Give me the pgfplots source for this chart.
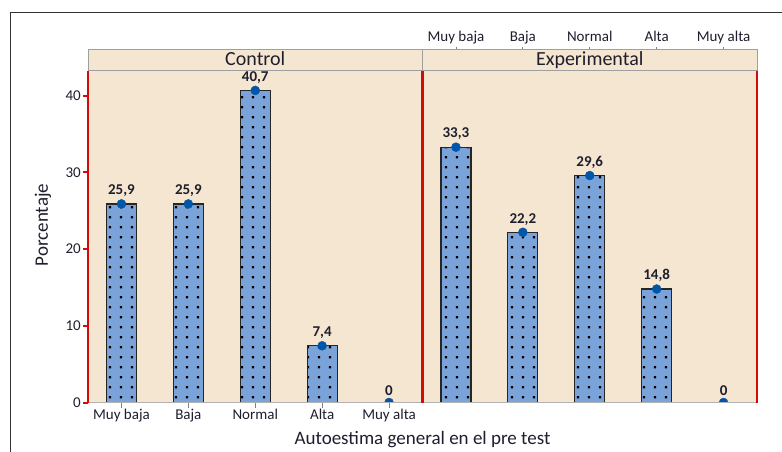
\documentclass[border=0pt]{standalone}
\usepackage{fontspec}
\setmainfont{Carlito}
\usepackage{pgfplots}
\pgfplotsset{compat=1.18}
\usetikzlibrary{patterns.meta}
\definecolor{bg}{RGB}{245,230,210}
\definecolor{barblue}{RGB}{122,163,218}
\definecolor{markblue}{RGB}{0,86,168}
\definecolor{axred}{RGB}{215,10,10}
\definecolor{txt}{RGB}{30,30,45}
\tikzdeclarepattern{
  name=bardots,
  type=uncolored,
  bounding box={(0pt,0pt) and (10.5pt,10pt)},
  tile size={(10.5pt,10pt)},
  code={\fill (4pt,4pt) rectangle (6.4pt,6.4pt);}
}
\pgfplotsset{
  panel/.style={
    scale only axis, width=334.5pt, height=332pt, anchor=south west,
    xmin=-0.5, xmax=4.5, ymin=0, ymax=43.3,
    axis background/.style={fill=bg},
    axis line style={draw=none},
    tick align=outside, major tick length=5pt,
    tick label style={font=\fontsize{15}{16}\selectfont, text=txt, inner sep=2pt},
    xticklabel style={text height=10pt, text depth=3pt},
    /pgf/number format/assume math mode=true,
    clip marker paths=true,
  },
  strip/.style={
    scale only axis, width=334.5pt, height=20.5pt, anchor=south west,
    xmin=-0.5, xmax=4.5, ymin=0, ymax=1,
    axis background/.style={fill=bg},
    axis line style={draw=gray!75, line width=1pt},
    ytick=\empty,
    tick align=outside, major tick length=3pt,
    tick label style={font=\fontsize{15}{16}\selectfont, text=txt, inner sep=2pt},
    xticklabel style={text height=10pt, text depth=3pt},
  },
  bars/.style={ybar, bar width=30pt, fill=barblue, draw=black!85, line width=1.2pt,
    postaction={pattern=bardots, pattern color=black}},
  dots/.style={only marks, mark=*, mark size=4.5pt, color=markblue,
    nodes near coords={\pgfmathprintnumber[fixed,precision=1,use comma]{\pgfplotspointmeta}},
    nodes near coords style={anchor=south, yshift=5pt, inner sep=2pt, text=txt,
      font=\bfseries\fontsize{15}{16}\selectfont}},
}
\begin{document}
\begin{tikzpicture}
\useasboundingbox (0pt,0pt) rectangle (782pt,451pt);
\draw[line width=1.5pt, black!80] (10.5pt,-2pt) -- (10.5pt,438.5pt) -- (785pt,438.5pt);

% strips
\begin{axis}[strip, at={(88pt,380.5pt)}, xtick=\empty]
\end{axis}
\begin{axis}[strip, at={(422.5pt,380.5pt)},
  xtick={0,1,2,3,4}, xticklabels={Muy baja,Baja,Normal,Alta,Muy alta},
  xtick pos=upper, xticklabel pos=upper, xtick style={gray, line width=0.8pt}]
\end{axis}
\node[anchor=base, text=txt, font=\fontsize{20}{20}\selectfont] at (255.25pt,385.3pt) {Control};
\node[anchor=base, text=txt, font=\fontsize{20}{20}\selectfont] at (589.75pt,385.3pt) {Experimental};

% left panel
\begin{axis}[panel, name=left, at={(88pt,48.5pt)},
  ytick={0,10,20,30,40}, ytick pos=left, ytick style={axred, line width=2pt},
  xtick={0,1,2,3,4}, xticklabels={Muy baja,Baja,Normal,Alta,Muy alta},
  xtick pos=lower, xtick style={gray, line width=0.8pt}]
\addplot[bars] coordinates {(0,25.9) (1,25.9) (2,40.7) (3,7.4) (4,0)};
\addplot[dots] coordinates {(0,25.9) (1,25.9) (2,40.7) (3,7.4) (4,0)};
\end{axis}

% right panel
\begin{axis}[panel, name=right, at={(422.5pt,48.5pt)}, ytick=\empty, xtick=\empty]
\addplot[bars] coordinates {(0,33.3) (1,22.2) (2,29.6) (3,14.8) (4,0)};
\addplot[dots] coordinates {(0,33.3) (1,22.2) (2,29.6) (3,14.8) (4,0)};
\end{axis}

\draw[gray!60, line width=1pt] (left.south west) -- (right.south east);
\draw[axred, line width=2.3pt] (left.south west) -- (left.north west);
\draw[axred, line width=2.3pt] (left.south east) -- (left.north east);
\draw[axred, line width=2.3pt] (right.south east) -- (right.north east);

\node[rotate=90, text=txt, font=\fontsize{19}{20}\selectfont] at (43pt,226pt) {Porcentaje};
\node[text=txt, font=\fontsize{19}{20}\selectfont] at (422.5pt,11pt) {Autoestima general en el pre test};
\end{tikzpicture}
\end{document}
